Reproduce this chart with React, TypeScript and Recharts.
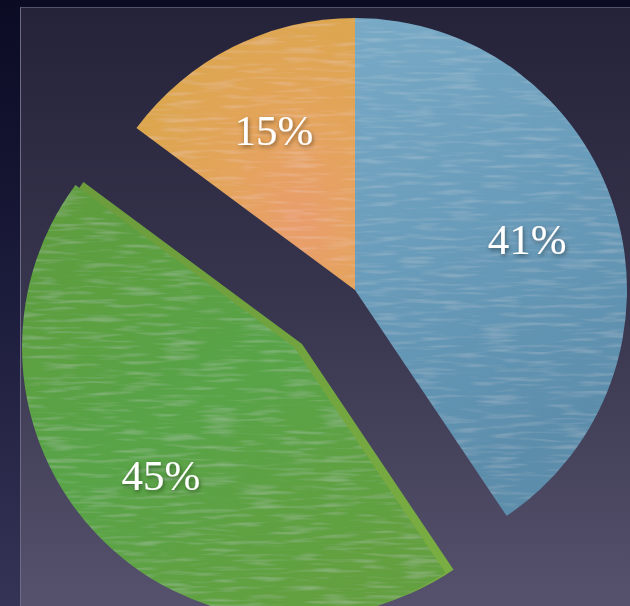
import React from "react";
import { PieChart, Pie, Cell } from "recharts";

const segmentNames = ["Blue", "Green", "Orange"];
const segmentValues = [41, 45, 15];
const segmentLabels = ["41%", "45%", "15%"];
const segmentFills = ["url(#gBlue)", "url(#gGreen)", "url(#gOrange)"];

const data = segmentNames.map((name, i) => ({
  name,
  value: segmentValues[i],
  label: segmentLabels[i],
}));

const RAD = Math.PI / 180;

const makeLabel = (indices: number[], radius: number) => (props: any) => {
  const { cx, cy, midAngle, index } = props;
  if (!indices.includes(index)) return null;
  const x = cx + radius * Math.cos(-midAngle * RAD);
  const y = cy + radius * Math.sin(-midAngle * RAD);
  return (
    <text
      x={x}
      y={y + 16}
      textAnchor="middle"
      fill="#ffffff"
      fontFamily="'Liberation Serif', 'DejaVu Serif', serif"
      fontSize={43}
      filter="url(#txtShadow)"
    >
      {data[index].label}
    </text>
  );
};

export default function App() {
  const W = 630;
  const H = 606;
  return (
    <div
      style={{
        position: "absolute",
        left: 0,
        top: 0,
        width: W,
        height: H,
        background: "linear-gradient(to bottom, #0b0b24 0%, #1c1c3c 50%, #363456 100%)",
        overflow: "hidden",
      }}
    >
      <div
        style={{
          position: "absolute",
          left: 20,
          top: 7,
          width: W - 20,
          height: H - 7,
          boxSizing: "border-box",
          borderLeft: "1px solid #6c6a84",
          borderTop: "1px solid #55536d",
          background: "linear-gradient(to bottom, #25233a 0%, #38354e 50%, #56526d 100%)",
        }}
      />
      <div style={{ position: "absolute", left: 0, top: 0 }}>
        <PieChart width={W} height={H} margin={{ top: 0, right: 0, bottom: 0, left: 0 }}>
          <defs>
            <linearGradient id="gBlue" x1="0" y1="0" x2="0.3" y2="1">
              <stop offset="0%" stopColor="#78aac6" />
              <stop offset="50%" stopColor="#699cba" />
              <stop offset="100%" stopColor="#5b8dab" />
            </linearGradient>
            <radialGradient id="gOrange" cx="0.75" cy="0.75" r="0.8">
              <stop offset="0%" stopColor="#e99d6c" />
              <stop offset="45%" stopColor="#e4a45c" />
              <stop offset="100%" stopColor="#dca64e" />
            </radialGradient>
            <linearGradient id="gGreen" x1="0" y1="0" x2="0.6" y2="1">
              <stop offset="0%" stopColor="#5f9c3c" />
              <stop offset="55%" stopColor="#58a447" />
              <stop offset="100%" stopColor="#63a040" />
            </linearGradient>
            <linearGradient id="gGreenSide" x1="0" y1="0" x2="0" y2="1">
              <stop offset="0%" stopColor="#6c9c3c" />
              <stop offset="100%" stopColor="#7bb043" />
            </linearGradient>
            <filter id="tex" x="0" y="0" width="100%" height="100%">
              <feTurbulence type="fractalNoise" baseFrequency="0.025 0.22" numOctaves="2" seed="11" result="n" />
              <feColorMatrix
                in="n"
                type="matrix"
                values="0 0 0 0 1  0 0 0 0 1  0 0 0 0 1  0.35 0 0 0 -0.17"
                result="w"
              />
              <feComposite in="w" in2="SourceGraphic" operator="in" result="t" />
              <feMerge>
                <feMergeNode in="SourceGraphic" />
                <feMergeNode in="t" />
              </feMerge>
            </filter>
            <filter id="txtShadow" x="-20%" y="-20%" width="140%" height="160%">
              <feDropShadow dx="1" dy="2" stdDeviation="2" floodColor="#000000" floodOpacity="0.45" />
            </filter>
          </defs>

          {/* green slice extrusion (side) */}
          <Pie
            data={data}
            dataKey="value"
            cx={302}
            cy={344}
            outerRadius={272}
            startAngle={90}
            endAngle={-270}
            stroke="none"
            isAnimationActive={false}
            labelLine={false}
          >
            {data.map((d, i) => (
              <Cell key={`s-${i}`} fill={i === 1 ? "url(#gGreenSide)" : "none"} stroke="none" />
            ))}
          </Pie>

          {/* green slice, exploded */}
          <Pie
            data={data}
            dataKey="value"
            cx={294}
            cy={347}
            outerRadius={272}
            startAngle={90}
            endAngle={-270}
            stroke="none"
            isAnimationActive={false}
            labelLine={false}
            label={makeLabel([1], 184)}
          >
            {data.map((d, i) => (
              <Cell
                key={`g-${i}`}
                fill={i === 1 ? segmentFills[i] : "none"}
                stroke="none"
                filter={i === 1 ? "url(#tex)" : undefined}
              />
            ))}
          </Pie>

          {/* blue and orange slices */}
          <Pie
            data={data}
            dataKey="value"
            cx={355}
            cy={290}
            outerRadius={272}
            startAngle={90}
            endAngle={-270}
            stroke="none"
            isAnimationActive={false}
            labelLine={false}
            label={makeLabel([0, 2], 180)}
          >
            {data.map((d, i) => (
              <Cell
                key={`m-${i}`}
                fill={i === 1 ? "none" : segmentFills[i]}
                stroke="none"
                filter={i === 1 ? undefined : "url(#tex)"}
              />
            ))}
          </Pie>
        </PieChart>
      </div>
    </div>
  );
}
